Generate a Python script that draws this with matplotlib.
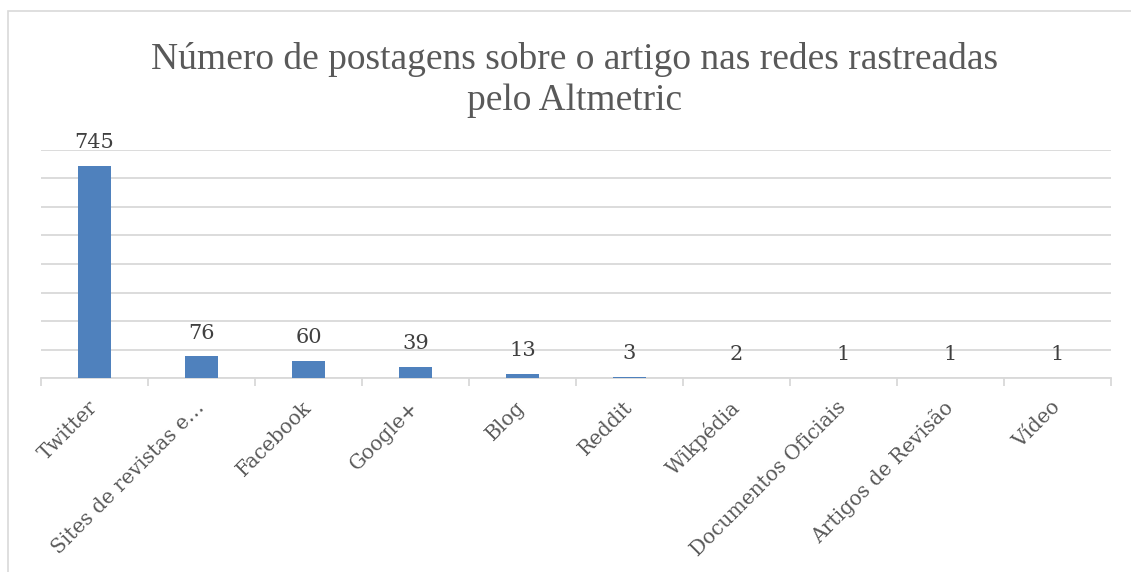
import matplotlib.pyplot as plt
from matplotlib.patches import Rectangle

# Data
categories = ['Twitter', 'Sites de revistas e…', 'Facebook', 'Google+', 'Blog',
              'Reddit', 'Wikpédia', 'Documentos Oficiais', 'Artigos de Revisão', 'Vídeo']
posts = [745, 76, 60, 39, 13, 3, 2, 1, 1, 1]

grid_color = '#d9d9d9'
text_color = '#595959'
bar_color = '#4f81bd'

fig = plt.figure(figsize=(11.31, 5.72), dpi=100)
ax = fig.add_axes([0.0363, 0.339, 0.9457, 0.399])

# outer chart frame (cut off at right and bottom like the reference)
fig.patches.append(Rectangle((8 / 1131, -0.1), 1.2, 1 - 11 / 572 + 0.1,
                             transform=fig.transFigure, fill=False,
                             edgecolor=grid_color, linewidth=1.2))

x = range(len(categories))
ax.bar(x, posts, width=0.31, color=bar_color, zorder=3)

for i, v in enumerate(posts):
    ax.annotate(str(v), (i, v), xytext=(0, 10), textcoords='offset points',
                ha='center', va='bottom', fontsize=15,
                family='DejaVu Serif', color='#404040')

ax.set_xlim(-0.5, len(categories) - 0.5)
ax.set_ylim(0, 800)
ax.set_yticks(range(0, 801, 100))
ax.yaxis.grid(True, color=grid_color, linewidth=1.3, zorder=0)
ax.tick_params(axis='y', left=False, labelleft=False)

# ticks between categories, labels centred on bars
ax.set_xticks([i - 0.5 for i in range(len(categories) + 1)], minor=False)
ax.set_xticklabels([''] * (len(categories) + 1))
ax.tick_params(axis='x', length=6, color=grid_color, width=1.3)
ax.set_xticks(list(x), minor=True)
ax.set_xticklabels(categories, minor=True, rotation=45, ha='right', va='center',
                   rotation_mode='anchor', fontsize=14.5, family='DejaVu Serif',
                   color=text_color)
ax.tick_params(axis='x', which='minor', length=0, pad=19)

for s in ['top', 'right', 'left']:
    ax.spines[s].set_visible(False)
ax.spines['bottom'].set_color(grid_color)
ax.spines['bottom'].set_linewidth(1.3)

fig.text(0.508, 0.86, 'Número de postagens sobre o artigo nas redes rastreadas\npelo Altmetric',
         ha='center', va='center', fontsize=27, family='Liberation Serif',
         color=text_color, linespacing=1.25)

fig.savefig('out.png', dpi=100, facecolor='white')
